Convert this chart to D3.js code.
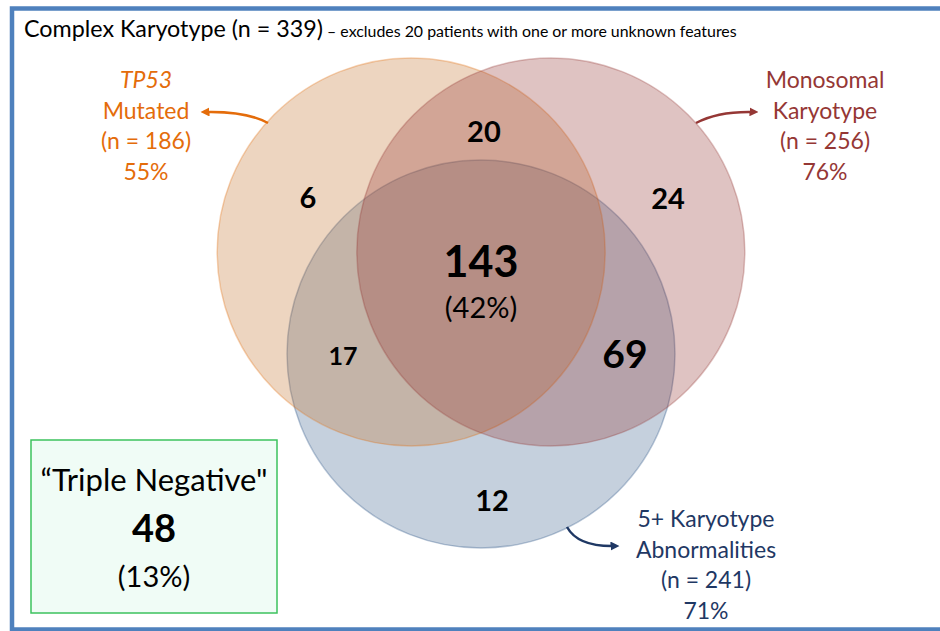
<!DOCTYPE html>
<html>
<head>
<meta charset="utf-8">
<script src="https://cdn.jsdelivr.net/npm/d3@7"></script>
<style>
	body { margin: 0; background: #fff; }
	svg { display: block; font-family: Lato, "Open Sans", sans-serif; }
</style>
</head>
<body>
<div id="chart"></div>
<script>
// data
const setLabelLines = [["TP53", "Mutated"], ["Monosomal", "Karyotype"], ["5+ Karyotype", "Abnormalities"]];
const setCounts = [186, 256, 241];
const setPcts = [55, 76, 71];
const regionKeys = ["T", "M", "K", "TM", "TK", "MK", "TMK"];
const regionCounts = [6, 24, 12, 20, 17, 69, 143];
const corePct = 42;
const totalN = 339;
const excludedN = 20;
const tripleNegN = 48;
const tripleNegPct = 13;

const width = 940;
const height = 631;

// venn geometry in unit radii, mapped to pixels through scales
const x = d3.scaleLinear().domain([-1, 1]).range([287, 675]);
const y = d3.scaleLinear().domain([-1, 1]).range([109, 497]);
const rPx = (x(1) - x(-1)) / 2;

const circles = [
	{ key: "T", cx: -0.36, cy: -0.263, fill: "#c37330", fillOp: 0.3, stroke: "#e46c0a" },
	{ key: "M", cx: 0.36, cy: -0.263, fill: "#953735", fillOp: 0.3, stroke: "#953735" },
	{ key: "K", cx: 0, cy: 0.263, fill: "#1f497d", fillOp: 0.26, stroke: "#1f497d" },
];
// draw blue first, then orange, then mauve
const drawOrder = ["K", "T", "M"];

// region label anchors (unit coords) and font sizes
const regionLayout = {
	T: { ux: -0.892, uy: -0.541, size: 29 },
	M: { ux: 0.964, uy: -0.539, size: 29 },
	K: { ux: 0.057, uy: 1.02, size: 29 },
	TM: { ux: 0.015, uy: -0.884, size: 29 },
	TK: { ux: -0.711, uy: 0.273, size: 25 },
	MK: { ux: 0.742, uy: 0.263, size: 39 },
	TMK: { ux: 0, uy: -0.216, size: 43 },
};

const svg = d3.select("#chart").append("svg")
	.attr("width", width)
	.attr("height", height)
	.attr("viewBox", [0, 0, width, height]);

// frame
svg.append("rect")
	.attr("x", 12).attr("y", 8.5)
	.attr("width", 960).attr("height", 621)
	.attr("fill", "#fff")
	.attr("stroke", "#4f81bd")
	.attr("stroke-width", 4.5);

// title
const title = svg.append("text")
	.attr("x", 24).attr("y", 37)
	.attr("fill", "#000");
title.append("tspan").attr("font-size", 23.3).text(`Complex Karyotype (n = ${totalN})`);
title.append("tspan").attr("font-size", 15.9).text(` – excludes ${excludedN} patients with one or more unknown features`);

// circles
const byKey = new Map(circles.map((d) => [d.key, d]));
svg.append("g")
	.selectAll("circle")
	.data(drawOrder.map((k) => byKey.get(k)))
	.join("circle")
	.attr("cx", (d) => x(d.cx))
	.attr("cy", (d) => y(d.cy))
	.attr("r", rPx)
	.attr("fill", (d) => d.fill)
	.attr("fill-opacity", (d) => d.fillOp)
	.attr("stroke", (d) => d.stroke)
	.attr("stroke-opacity", 0.3)
	.attr("stroke-width", 1.5);

// region counts
const regions = regionKeys.map((k, i) => ({ key: k, value: regionCounts[i], ...regionLayout[k] }));
svg.append("g")
	.selectAll("text")
	.data(regions)
	.join("text")
	.attr("x", (d) => x(d.ux))
	.attr("y", (d) => y(d.uy) + d.size * 0.36)
	.attr("text-anchor", "middle")
	.attr("font-weight", "bold")
	.attr("font-size", (d) => d.size)
	.text((d) => d.value);

const core = regions.find((d) => d.key === "TMK");
svg.append("text")
	.attr("x", x(core.ux))
	.attr("y", 318)
	.attr("text-anchor", "middle")
	.attr("font-size", 29)
	.text(`(${corePct}%)`);

// set labels
const setLabelLayout = [
	{ x: 146, y: 88, color: "#e46c0a" },
	{ x: 825, y: 88, color: "#953735" },
	{ x: 706, y: 527, color: "#1f3864" },
];
const lineGap = 30.5;
setLabelLines.forEach((lines, i) => {
	const lay = setLabelLayout[i];
	const all = [...lines, `(n = ${setCounts[i]})`, `${setPcts[i]}%`];
	const t = svg.append("text")
		.attr("text-anchor", "middle")
		.attr("font-size", 23)
		.attr("fill", lay.color);
	all.forEach((line, j) => {
		t.append("tspan")
			.attr("x", lay.x)
			.attr("y", lay.y + j * lineGap)
			.attr("font-style", i === 0 && j === 0 ? "italic" : null)
			.text(line);
	});
});

// arrows
const defs = svg.append("defs");
const arrows = [
	{ id: "a0", color: "#e46c0a", d: "M268,123 Q246,111 205,112" },
	{ id: "a1", color: "#953735", d: "M696,123 Q718,111 754,112" },
	{ id: "a2", color: "#1f3864", d: "M567,527 Q578,547 615,546" },
];
arrows.forEach((a) => {
	defs.append("marker")
		.attr("id", a.id)
		.attr("viewBox", "0 0 10 10")
		.attr("refX", 5).attr("refY", 5)
		.attr("markerWidth", 3.6).attr("markerHeight", 3.6)
		.attr("orient", "auto")
		.append("path")
		.attr("d", "M0,0 L10,5 L0,10 z")
		.attr("fill", a.color);
	svg.append("path")
		.attr("d", a.d)
		.attr("fill", "none")
		.attr("stroke", a.color)
		.attr("stroke-width", 2.5)
		.attr("marker-end", `url(#${a.id})`);
});

// triple negative box
const box = svg.append("g");
box.append("rect")
	.attr("x", 31).attr("y", 440)
	.attr("width", 246).attr("height", 173)
	.attr("fill", "#f0fcf6")
	.attr("stroke", "#3cc25e")
	.attr("stroke-width", 1.5);
box.append("text")
	.attr("x", 154).attr("y", 491)
	.attr("text-anchor", "middle")
	.attr("font-size", 31)
	.text("\u201cTriple Negative\"");
box.append("text")
	.attr("x", 154).attr("y", 542)
	.attr("text-anchor", "middle")
	.attr("font-size", 38)
	.attr("font-weight", "bold")
	.text(tripleNegN);
box.append("text")
	.attr("x", 154).attr("y", 587)
	.attr("text-anchor", "middle")
	.attr("font-size", 29)
	.text(`(${tripleNegPct}%)`);
</script>
</body>
</html>
